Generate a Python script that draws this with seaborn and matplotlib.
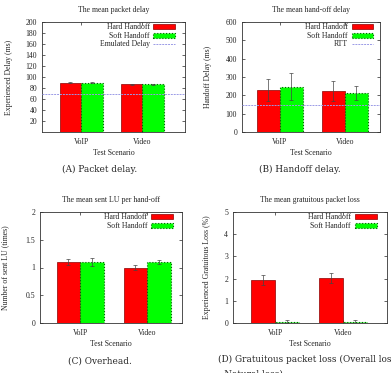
import numpy as np
import pandas as pd
import matplotlib
matplotlib.use("Agg")
import matplotlib.pyplot as plt
from matplotlib.patches import Patch
from matplotlib.lines import Line2D
import seaborn as sns

sns.set_style("ticks")
plt.rcParams['font.family'] = ['Liberation Serif', 'DejaVu Serif']

scenarios = ["VoIP", "Video"]
handoffs = ["Hard Handoff", "Soft Handoff"]

# panel (a) packet delay
delay_hard = [90, 87]
delay_soft = [90, 87]
delay_hard_err = [1, 1]
delay_soft_err = [1, 1]
emulated_delay = 70

# panel (b) hand-off delay
hod_hard = [228, 225]
hod_soft = [248, 212]
hod_hard_err = [60, 55]
hod_soft_err = [73, 38]
rtt = 145

# panel (c) sent LU
lu_hard = [1.1, 1.0]
lu_soft = [1.1, 1.1]
lu_hard_err = [0.06, 0.04]
lu_soft_err = [0.08, 0.04]

# panel (d) gratuitous loss
loss_hard = [1.92, 2.02]
loss_soft = [0.05, 0.05]
loss_hard_err = [0.22, 0.22]
loss_soft_err = [0.07, 0.1]

W, H = 391, 373
fig = plt.figure(figsize=(W / 100, H / 100), dpi=100)

RED = "#ff0000"
GREEN = "#00ff00"
LINEC = "#9a9ae6"
FS = 5.6


def make_panel(rect, hard, soft, herr, serr, ylim, yticks, yticklabels,
               xlim, title, ylabel, ylab_x, leg_x, ref=None, ref_label=None):
    l, b, r, t = rect
    ax = fig.add_axes([l / W, 1 - b / H, (r - l) / W, (b - t) / H])
    df = pd.DataFrame({
        "scenario": scenarios * 2,
        "handoff": [handoffs[0]] * 2 + [handoffs[1]] * 2,
        "value": list(hard) + list(soft),
    })
    sns.barplot(data=df, x="scenario", y="value", hue="handoff",
                hue_order=handoffs, palette=[RED, GREEN], width=0.7,
                errorbar=None, legend=False, ax=ax, saturation=1)
    # style bars and add error bars
    errs = list(herr) + list(serr)
    for i, p in enumerate(ax.patches[:4]):
        if i < 2:
            p.set_edgecolor("#8b0000")
            p.set_linewidth(0.5)
        else:
            p.set_edgecolor("#006400")
            p.set_linewidth(0.8)
            p.set_linestyle(":")
        cx = p.get_x() + p.get_width() / 2
        ax.errorbar(cx, p.get_height(), yerr=errs[i], color="#444444",
                    lw=0.5, capsize=1.2, capthick=0.5, zorder=5)
    if ref is not None:
        ax.axhline(ref, color=LINEC, lw=0.7, ls=(0, (2, 1)), zorder=6)
    ax.set_xlim(*xlim)
    ax.set_ylim(*ylim)
    ax.set_yticks(yticks)
    ax.set_yticklabels(yticklabels)
    ax.tick_params(direction="in", length=2, width=0.5, labelsize=FS,
                   top=True, right=True)
    ax.tick_params(axis="x", pad=4.5)
    ax.tick_params(axis="y", pad=3.5)
    for s in ax.spines.values():
        s.set_linewidth(0.6)
        s.set_color("#333333")
    ax.set_xlabel("Test Scenario", fontsize=FS, labelpad=2)
    ax.set_ylabel(ylabel, fontsize=FS)
    ax.yaxis.set_label_coords(ylab_x, 0.5)
    ax.set_title(title, fontsize=FS, pad=7)

    handles = [Patch(facecolor=RED, edgecolor="#8b0000", lw=0.5),
               Patch(facecolor=GREEN, edgecolor="#006400", lw=0.8, ls=":")]
    labels = list(handoffs)
    if ref is not None:
        handles.append(Line2D([0], [0], color=LINEC, lw=0.7, ls=(0, (2, 1))))
        labels.append(ref_label)
    ax.legend(handles, labels, loc="upper right", bbox_to_anchor=(leg_x, 1.0),
              markerfirst=False, frameon=False, fontsize=FS,
              handlelength=2.8, handleheight=0.6, labelspacing=0.08,
              handletextpad=0.5, borderaxespad=0, borderpad=0.15)
    return ax


make_panel((42, 132, 185, 22), delay_hard, delay_soft, delay_hard_err,
           delay_soft_err, (0, 200), list(range(20, 201, 20)),
           [str(v) for v in range(20, 201, 20)], (-0.64, 1.7),
           "The mean packet delay", "Experienced Delay (ms)", -0.206, 0.94,
           emulated_delay, "Emulated Delay")
make_panel((242, 132, 380, 22), hod_hard, hod_soft, hod_hard_err,
           hod_soft_err, (0, 600), list(range(0, 601, 100)),
           [str(v) for v in range(0, 601, 100)], (-0.58, 1.54),
           "The mean hand-off delay", "Handoff Delay (ms)", -0.221, 0.96,
           rtt, "RTT")
make_panel((40, 323, 182, 212), lu_hard, lu_soft, lu_hard_err, lu_soft_err,
           (0, 2), [0, 0.5, 1, 1.5, 2], ["0", "0.5", "1", "1.5", "2"],
           (-0.6, 1.52), "The mean sent LU per hand-off",
           "Number of sent LU (times)", -0.215, 0.945)
make_panel((233, 323, 387, 212), loss_hard, loss_soft, loss_hard_err,
           loss_soft_err, (0, 5), [0, 1, 2, 3, 4, 5],
           ["0", "1", "2", "3", "4", "5"], (-0.62, 1.65),
           "The mean gratuitous packet loss",
           "Experienced Gratuitous Loss (%)", -0.14, 0.94)

CFS = 6.4
cap = dict(fontsize=CFS, va="center", family=["DejaVu Serif"])
fig.text(100 / W, 1 - 169 / H, "(A) Packet delay.", ha="center", **cap)
fig.text(300 / W, 1 - 169 / H, "(B) Handoff delay.", ha="center", **cap)
fig.text(100 / W, 1 - 361 / H, "(C) Overhead.", ha="center", **cap)
fig.text(218 / W, 1 - 359 / H, "(D) Gratuitous packet loss (Overall loss",
         ha="left", **cap)
fig.text(217 / W, 1 - 374 / H, "\u2013 Natural loss)", ha="left", **cap)

fig.savefig("out.png", dpi=100)
